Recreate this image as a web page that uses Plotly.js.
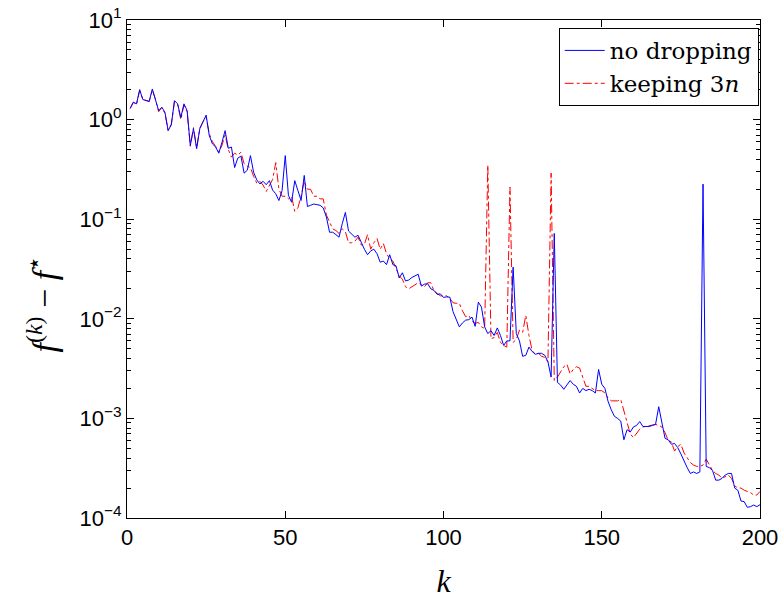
<!DOCTYPE html>
<html>
<head>
<meta charset="utf-8">
<script src="https://cdn.plot.ly/plotly-3.0.1.min.js"></script>
<style>html,body{margin:0;padding:0;background:#fff;}#chart{width:783px;height:602px;}</style>
</head>
<body>
<div id="chart"></div>
<script>
// f^(k) - f* for k = 1..200
const noDropping = [
1.29,1.49,1.44,2.0,1.59,1.55,1.52,2.03,1.61,1.23,
1.33,1.18,0.775,0.885,1.55,1.44,1.05,1.44,1.23,0.55,
0.81,0.51,0.81,0.94,1.11,0.69,0.57,0.53,0.46,0.59,
0.775,0.515,0.53,0.33,0.41,0.43,0.29,0.31,0.435,0.296,
0.248,0.226,0.24,0.222,0.244,0.196,0.18,0.154,0.194,0.435,
0.174,0.148,0.244,0.194,0.154,0.275,0.134,0.138,0.142,0.14,
0.138,0.13,0.105,0.074,0.074,0.07,0.066,0.09,0.117,0.076,
0.07,0.066,0.069,0.058,0.05,0.044,0.048,0.05,0.045,0.037,
0.038,0.035,0.044,0.035,0.034,0.0257,0.029,0.024,0.0245,0.026,
0.027,0.028,0.0213,0.0223,0.0225,0.02,0.0193,0.0176,0.0178,0.0164,
0.0166,0.0165,0.0118,0.01,0.0083,0.0091,0.0097,0.0098,0.0104,0.0084,
0.0147,0.0131,0.0083,0.0071,0.0076,0.0068,0.0081,0.0068,0.0054,0.006,
0.006,0.033,0.0071,0.006,0.0042,0.0043,0.0052,0.0047,0.0044,0.0045,
0.0045,0.0043,0.0037,0.0026,0.072,0.0023,0.00216,0.00196,0.0022,0.0024,
0.0022,0.0021,0.0018,0.002,0.0019,0.00196,0.0019,0.0018,0.0031,0.0022,
0.002,0.00148,0.00122,0.00105,0.001,0.00094,0.00061,0.00077,0.00073,0.00082,
0.00085,0.00093,0.00083,0.00083,0.00083,0.00085,0.00087,0.00131,0.00094,0.00063,
0.00061,0.00055,0.00056,0.00051,0.00044,0.00037,0.00032,0.00028,0.00029,0.00028,
0.00029,0.225,0.00033,0.00032,0.0003,0.00024,0.00024,0.00025,0.00027,0.00028,
0.00028,0.0002,0.00019,0.000148,0.000146,0.000128,0.00013,0.000135,0.00013,0.000136
];
const keeping3n = [
1.3,1.5,1.42,1.95,1.6,1.55,1.52,1.98,1.6,1.2,
1.32,1.15,0.78,0.9,1.52,1.42,1.0,1.4,1.2,0.54,
0.83,0.52,0.82,0.95,1.05,0.72,0.6,0.54,0.47,0.55,
0.7,0.5,0.42,0.46,0.44,0.47,0.36,0.34,0.33,0.27,
0.23,0.24,0.22,0.19,0.22,0.25,0.37,0.2,0.17,0.17,
0.16,0.17,0.12,0.13,0.17,0.24,0.2,0.2,0.17,0.17,
0.16,0.16,0.11,0.095,0.08,0.077,0.072,0.08,0.075,0.058,
0.058,0.06,0.066,0.055,0.056,0.07,0.05,0.058,0.064,0.05,
0.057,0.045,0.04,0.038,0.032,0.027,0.025,0.021,0.02,0.021,
0.022,0.023,0.022,0.021,0.023,0.023,0.019,0.018,0.017,0.017,
0.017,0.016,0.0145,0.0143,0.0143,0.012,0.0105,0.0108,0.0095,0.009,
0.0092,0.0083,0.008,0.35,0.0063,0.0065,0.0073,0.0058,0.0054,0.0052,
0.21,0.0058,0.0062,0.0077,0.0073,0.0108,0.0068,0.0048,0.0044,0.0045,
0.0042,0.0041,0.0037,0.29,0.0024,0.0026,0.0029,0.0033,0.0035,0.0028,
0.0031,0.0033,0.0032,0.0026,0.0021,0.0021,0.002,0.0019,0.0019,0.0019,
0.0018,0.0016,0.0015,0.0015,0.0015,0.00155,0.0012,0.0009,0.0007,0.00064,
0.0007,0.00078,0.00082,0.00083,0.00085,0.00086,0.00087,0.00085,0.00082,0.00072,
0.0006,0.00058,0.00047,0.00052,0.00055,0.00045,0.0004,0.00036,0.00034,0.00033,
0.00033,0.00034,0.00039,0.00034,0.0003,0.00028,0.00027,0.00025,0.00026,0.00027,
0.00025,0.00021,0.0002,0.0002,0.00019,0.000185,0.00018,0.00017,0.00017,0.000185
];
const seriesNames = ['no dropping', 'keeping 3<i>n</i>'];
const xTickVals = [0, 50, 100, 150, 200];
const yTickVals = [10, 1, 0.1, 0.01, 0.001, 0.0001];
const yTickText = ['10<sup>1</sup>','10<sup>0</sup>','10<sup>−1</sup>','10<sup>−2</sup>','10<sup>−3</sup>','10<sup>−4</sup>'];
const yTitle = '<i>f</i><sup>(<i>k</i>)</sup> − <i>f</i><sup>⋆</sup>';

const iters = noDropping.map((_, i) => i + 1);

const data = [
  {x: iters, y: keeping3n, name: seriesNames[1], type: 'scatter', mode: 'lines',
   line: {color: 'rgb(255,0,0)', width: 1, dash: 'dashdot'}},
  {x: iters, y: noDropping, name: seriesNames[0], type: 'scatter', mode: 'lines',
   line: {color: 'rgb(0,0,255)', width: 1}}
];

const sans = 'Liberation Sans, Arial, Helvetica, sans-serif';
const serif = 'DejaVu Serif, Liberation Serif, serif';
const serif2 = 'Liberation Serif, DejaVu Serif, serif';

const layout = {
  width: 783, height: 602,
  margin: {l: 127, r: 23, t: 20, b: 84},
  paper_bgcolor: '#fff', plot_bgcolor: '#fff',
  showlegend: true,
  legend: {x: 0.682, y: 0.984, xanchor: 'left', yanchor: 'top',
           bgcolor: '#fff', bordercolor: '#000', borderwidth: 1,
           font: {family: serif, size: 23, color: '#000'},
           traceorder: 'reversed', itemwidth: 40, tracegroupgap: 0},
  xaxis: {range: [0, 200], tickvals: xTickVals, ticks: 'inside', ticklen: 7,
          tickcolor: '#000', showline: true, linecolor: '#000', linewidth: 1,
          mirror: 'ticks', showgrid: false, zeroline: false,
          tickfont: {family: sans, size: 22, color: '#000'},
          title: {text: '<i>k</i>', font: {family: serif2, size: 32, color: '#000'}, standoff: 20}},
  yaxis: {type: 'log', range: [-4, 1], tickvals: yTickVals, ticktext: yTickText,
          ticks: 'inside', ticklen: 7, tickcolor: '#000', showline: true,
          linecolor: '#000', linewidth: 1, mirror: 'ticks', showgrid: false, zeroline: false,
          tickfont: {family: sans, size: 22, color: '#000'},
          minor: {ticks: 'inside', ticklen: 4, tickcolor: '#000', dtick: 'D1', showgrid: false}},
  annotations: [{
    text: yTitle, textangle: -90, showarrow: false,
    xref: 'paper', yref: 'paper', x: -0.135, y: 0.43,
    xanchor: 'center', yanchor: 'middle',
    font: {family: serif2, size: 34, color: '#000'}
  }]
};

Plotly.newPlot('chart', data, layout, {staticPlot: true});
</script>
</body>
</html>
